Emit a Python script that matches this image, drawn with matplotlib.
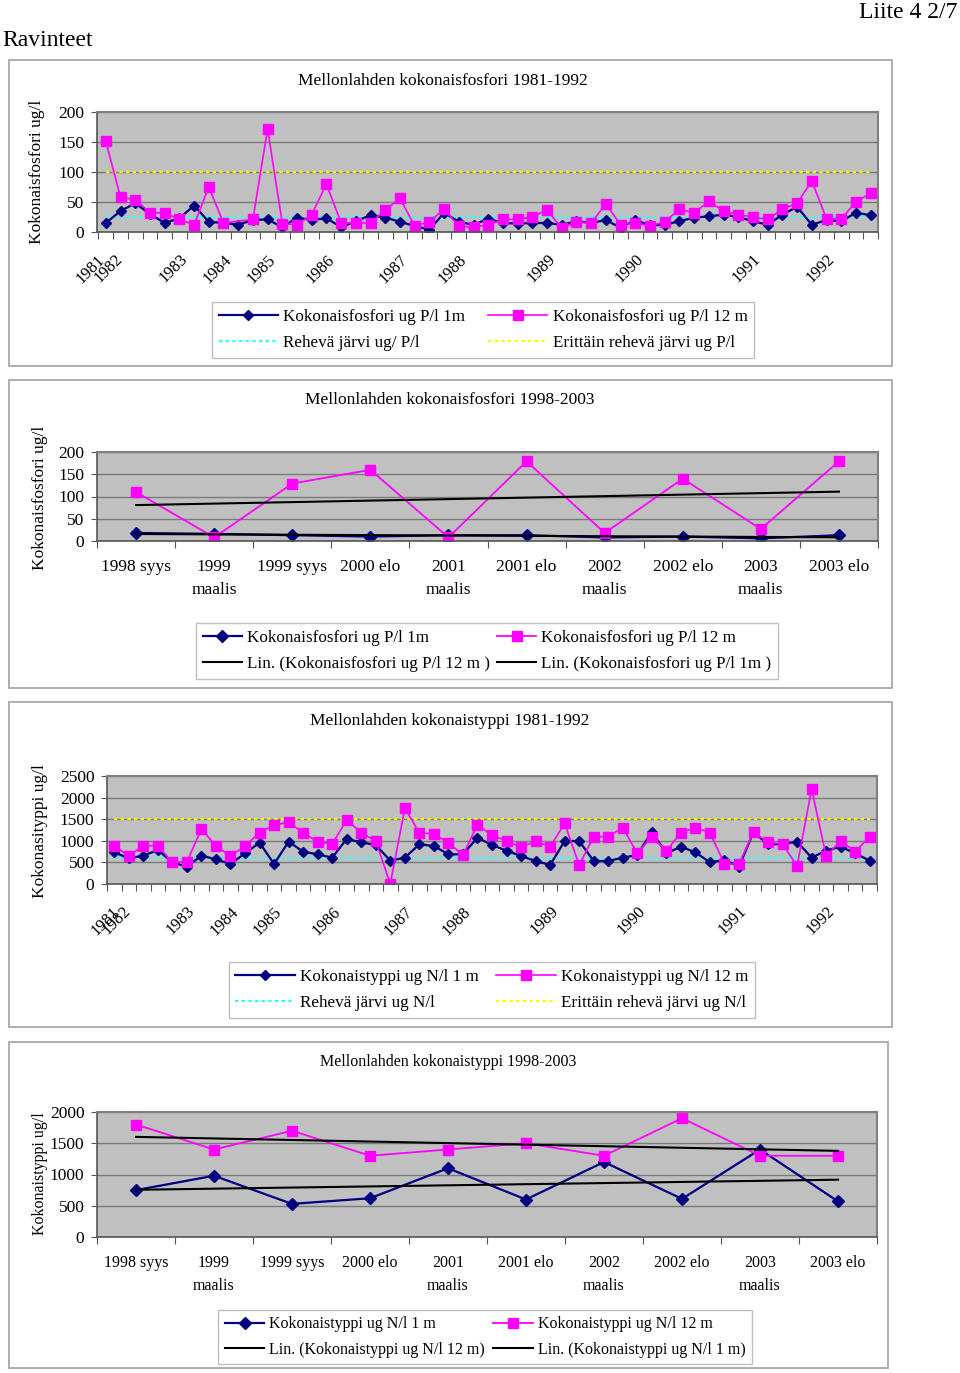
import numpy as np
import matplotlib
matplotlib.use("Agg")
import matplotlib.pyplot as plt
from matplotlib.patches import Rectangle

W, H = 960, 1373

# --- 1981-1992 sampling rounds (53 samples) ---
p_1m_8192 = [15, 35, 48, 30, 15, 23, 44, 17, 15, 12,
             20, 21, 8, 24, 20, 23, 8, 18, 28, 24,
             17, 10, 4, 32, 17, 12, 22, 15, 14, 15,
             15, 12, 18, 15, 20, 7, 20, 11, 12, 18,
             24, 26, 29, 25, 18, 12, 29, 42, 12, 20,
             18, 32, 28]
p_12m_8192 = [151, 58, 54, 32, 32, 21, 12, 75, 15, np.nan,
              21, 172, 14, 12, 29, 80, 15, 15, 15, 37,
              56, 10, 17, 38, 10, 8, 12, 21, 21, 25,
              37, 6, 17, 15, 47, 12, 15, 10, 17, 38,
              32, 51, 35, 29, 25, 21, 38, 48, 85, 22,
              22, 50, 65]
n_1m_8192 = [733, 594, 656, 787, 500, 401, 656, 571, 463, 710,
             957, 463, 980, 748, 687, 610, 1042, 965, 903, 540,
             610, 918, 880, 687, 687, 1073, 903, 772, 648, 532,
             440, 995, 995, 532, 532, 610, 671, 1211, 710, 864,
             733, 502, 556, 401, 1200, 918, 926, 980, 610, 772,
             864, 710, 540]
n_12m_8192 = [887, 648, 887, 887, 502, 517, 1273, 880, 648, 880,
              1188, 1366, 1427, 1188, 980, 926, 1481, 1188, 995, 0,
              1752, 1188, 1157, 957, 671, 1366, 1134, 995, 849, 995,
              864, 1404, 440, 1096, 1096, 1304, 710, 1096, 764, 1188,
              1304, 1188, 463, 463, 1196, 965, 926, 417, 2199, 648,
              995, 748, 1096]

year_labels = ["1981", "1982", "1983", "1984", "1985", "1986",
               "1987", "1988", "1989", "1990", "1991", "1992"]
p_year_pos = [-0.6, 0.6, 5, 8, 11, 15, 20, 24, 30, 36, 44, 49]
n_year_pos = [-0.2, 0.6, 5, 8, 11, 15, 20, 24, 30, 36, 43, 49]

p_limits = [25, 100]     # rehevä, erittäin rehevä
n_limits = [600, 1500]

# --- 1998-2003 ---
dates_9803 = ["1998 syys", "1999\nmaalis", "1999 syys", "2000 elo",
              "2001\nmaalis", "2001 elo", "2002\nmaalis", "2002 elo",
              "2003\nmaalis", "2003 elo"]
p_1m_9803 = [18, 16, 13, 10, 13, 13, 8, 10, 6, 13]
p_12m_9803 = [110, 8, 129, 160, 8, 179, 18, 140, 27, 179]
n_1m_9803 = [750, 980, 530, 620, 1100, 600, 1200, 610, 1400, 570]
n_12m_9803 = [1800, 1400, 1700, 1300, 1400, 1500, 1300, 1900, 1300, 1300]

BLUE = "#000080"
PINK = "#FF00FF"
CYAN = "#33FFFF"
YELLOW = "#FFFF00"
FS = 12.5


def px_axes(fig, left, top, right, bottom):
    """Axes placed by pixel box (top-left origin)."""
    return fig.add_axes([left / W, 1 - bottom / H, (right - left) / W, (bottom - top) / H])


def fig_text(fig, x, y, s, **kw):
    fig.text(x / W, 1 - y / H, s, **kw)


def add_frame(fig, left, top, right, bottom):
    rect = Rectangle((left / W, 1 - bottom / H), (right - left) / W, (bottom - top) / H,
                     transform=fig.transFigure, fill=False, edgecolor="#A8A8A8", lw=1.3)
    fig.add_artist(rect)


def style_axes(ax, n, yticks):
    ax.set_facecolor("#C0C0C0")
    ax.set_xlim(-0.5, n - 0.5)
    ax.set_ylim(yticks[0], yticks[-1])
    ax.set_yticks(yticks)
    ax.yaxis.grid(True, color="#7A7A7A", lw=1.0)
    ax.set_axisbelow(True)
    for side in ["top", "right"]:
        ax.spines[side].set_color("#808080")
        ax.spines[side].set_linewidth(1.5)
    for side in ["left", "bottom"]:
        ax.spines[side].set_color("#555555")
        ax.spines[side].set_linewidth(1.2)
    # category boundaries get tick marks, labels go on minor ticks
    ax.set_xticks(np.arange(n + 1) - 0.5)
    ax.set_xticklabels([])
    ax.tick_params(axis="x", which="major", length=5, color="#555555", width=0.8)
    ax.tick_params(axis="y", length=4, color="#555555", width=0.8, pad=5, labelsize=FS)


def legend(ax, handles, labels, cx, cy, fs=FS, hlen=3.5, colsp=1.3):
    leg = ax.legend(handles, labels, ncol=2, loc="center",
                    bbox_to_anchor=(cx / W, 1 - cy / H), bbox_transform=ax.figure.transFigure,
                    fontsize=fs, frameon=True, fancybox=False, handlelength=hlen,
                    handletextpad=0.3, columnspacing=colsp, labelspacing=0.6,
                    borderpad=0.4, numpoints=1, borderaxespad=0)
    leg.get_frame().set_edgecolor("#B0B0B0")
    leg.get_frame().set_linewidth(1.0)


def plot_long(ax, v1, v12, limits, year_pos, lbl1, lbl12, lbl_lim):
    x = np.arange(len(v1))
    v12 = np.asarray(v12, dtype=float)
    ok = ~np.isnan(v12)
    h_r, = ax.plot(x, np.full(len(x), limits[0]), color=CYAN, lw=1.6, ls=(0, (1.5, 1.5)))
    h_e, = ax.plot(x, np.full(len(x), limits[1]), color=YELLOW, lw=1.6, ls=(0, (1.5, 1.5)))
    h1, = ax.plot(x, v1, color=BLUE, lw=1.6, marker="D", ms=5.5)
    h12, = ax.plot(x[ok], v12[ok], color=PINK, lw=1.2, marker="s", ms=7)
    ax.set_xticks(year_pos, year_labels, minor=True)
    ax.tick_params(axis="x", which="minor", length=0, pad=14, labelsize=FS - 0.5)
    for t in ax.get_xticklabels(minor=True):
        t.set_rotation(45)
        t.set_ha("right")
        t.set_va("top")
        t.set_rotation_mode("anchor")
    return [h1, h_r, h12, h_e], [lbl1, lbl_lim[0], lbl12, lbl_lim[1]]


def plot_short(ax, v1, v12, fs, linesp):
    x = np.arange(len(v1))
    h1, = ax.plot(x, v1, color=BLUE, lw=1.6, marker="D", ms=6.5)
    h12, = ax.plot(x, v12, color=PINK, lw=1.3, marker="s", ms=7.5)
    c12 = np.polyfit(x, v12, 1)
    c1 = np.polyfit(x, v1, 1)
    t12, = ax.plot(x, np.polyval(c12, x), color="black", lw=1.5)
    t1, = ax.plot(x, np.polyval(c1, x), color="black", lw=1.5)
    ax.set_xticks(x, dates_9803, minor=True)
    ax.tick_params(axis="x", which="minor", length=0, pad=13, labelsize=fs)
    for t in ax.get_xticklabels(minor=True):
        t.set_linespacing(linesp)
    return [h1, t12, h12, t1]


def main():
    plt.rcParams["font.family"] = ["Liberation Serif", "DejaVu Serif"]
    fig = plt.figure(figsize=(W / 100, H / 100), dpi=100)

    fig_text(fig, 2, 40, "Ravinteet", fontsize=17, ha="left", va="center")
    fig_text(fig, 957, 12, "Liite 4 2/7", fontsize=17, ha="right", va="center")

    # --- chart 1: phosphorus 1981-1992 ---
    add_frame(fig, 9, 60, 892, 366)
    fig_text(fig, 443, 81, "Mellonlahden kokonaisfosfori 1981-1992", fontsize=FS, ha="center", va="center")
    fig_text(fig, 37, 172, "Kokonaisfosfori ug/l", fontsize=FS, rotation=90, ha="center", va="center")
    ax1 = px_axes(fig, 97, 112, 878, 232)
    style_axes(ax1, len(p_1m_8192), [0, 50, 100, 150, 200])
    h, l = plot_long(ax1, p_1m_8192, p_12m_8192, p_limits, p_year_pos,
                     "Kokonaisfosfori ug P/l 1m", "Kokonaisfosfori ug P/l 12 m",
                     ["Rehevä järvi ug/ P/l", "Erittäin rehevä järvi ug P/l"])
    legend(ax1, h, l, 483, 330, fs=12.3, colsp=1.3)

    # --- chart 2: phosphorus 1998-2003 ---
    add_frame(fig, 9, 380, 892, 688)
    fig_text(fig, 450, 400, "Mellonlahden kokonaisfosfori 1998-2003", fontsize=FS, ha="center", va="center")
    fig_text(fig, 40, 498, "Kokonaisfosfori ug/l", fontsize=FS, rotation=90, ha="center", va="center")
    ax2 = px_axes(fig, 97, 452, 878, 541)
    style_axes(ax2, len(dates_9803), [0, 50, 100, 150, 200])
    h = plot_short(ax2, p_1m_9803, p_12m_9803, FS, 1.55)
    l = ["Kokonaisfosfori ug P/l 1m", "Lin. (Kokonaisfosfori ug P/l 12 m )",
         "Kokonaisfosfori ug P/l 12 m", "Lin. (Kokonaisfosfori ug P/l 1m )"]
    legend(ax2, h, l, 487, 651, fs=12.3, hlen=2.3, colsp=0.4)

    # --- chart 3: nitrogen 1981-1992 ---
    add_frame(fig, 9, 702, 892, 1027)
    fig_text(fig, 450, 721, "Mellonlahden kokonaistyppi 1981-1992", fontsize=FS, ha="center", va="center")
    fig_text(fig, 40, 831, "Kokonasityppi ug/l", fontsize=FS, rotation=90, ha="center", va="center")
    ax3 = px_axes(fig, 107, 776, 877, 884)
    style_axes(ax3, len(n_1m_8192), [0, 500, 1000, 1500, 2000, 2500])
    h, l = plot_long(ax3, n_1m_8192, n_12m_8192, n_limits, n_year_pos,
                     "Kokonaistyppi ug N/l 1 m", "Kokonaistyppi ug N/l 12 m",
                     ["Rehevä järvi ug N/l", "Erittäin rehevä järvi ug N/l"])
    legend(ax3, h, l, 492, 990, fs=12.3, colsp=1.0)

    # --- chart 4: nitrogen 1998-2003 ---
    add_frame(fig, 9, 1042, 888, 1368)
    fig_text(fig, 448, 1062, "Mellonlahden kokonaistyppi 1998-2003", fontsize=11.5, ha="center", va="center")
    fig_text(fig, 40, 1174, "Kokonaistyppi ug/l", fontsize=11.5, rotation=90, ha="center", va="center")
    ax4 = px_axes(fig, 97, 1112, 877, 1237)
    style_axes(ax4, len(dates_9803), [0, 500, 1000, 1500, 2000])
    h = plot_short(ax4, n_1m_9803, n_12m_9803, 11.5, 1.55)
    l = ["Kokonaistyppi ug N/l 1 m", "Lin. (Kokonaistyppi ug N/l 12 m)",
         "Kokonaistyppi ug N/l 12 m", "Lin. (Kokonaistyppi ug N/l 1 m)"]
    legend(ax4, h, l, 485, 1337, fs=11.5, hlen=2.5, colsp=0.5)

    fig.savefig("out.png", dpi=100)
    plt.close(fig)


if __name__ == "__main__":
    main()
